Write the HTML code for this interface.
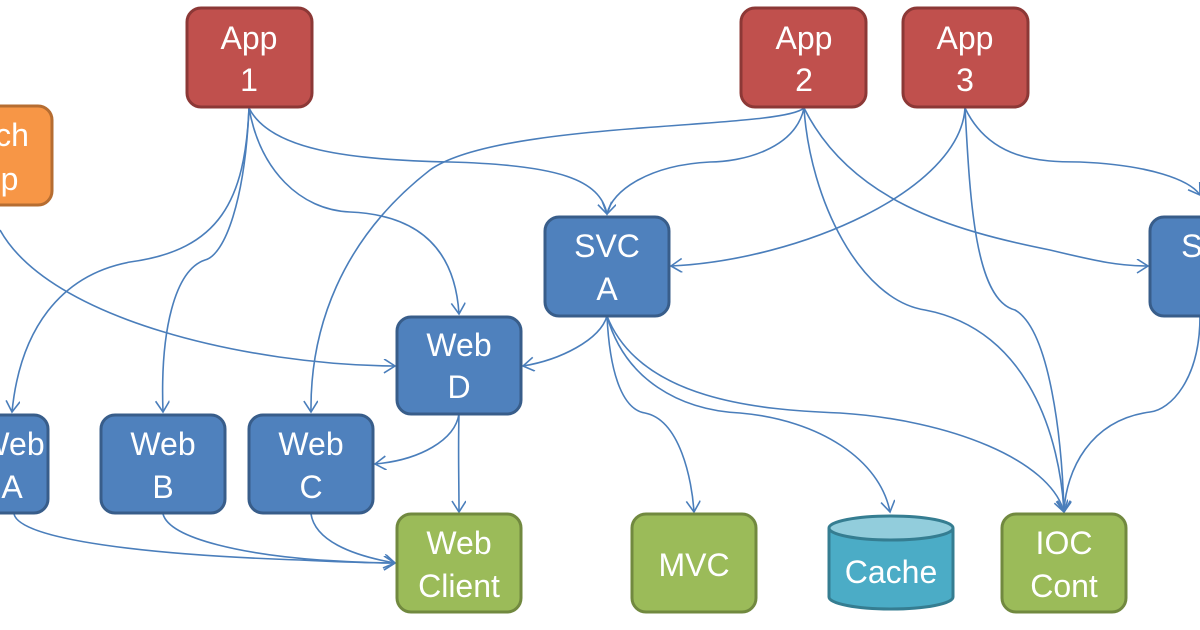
<!DOCTYPE html>
<html><head><meta charset="utf-8"><style>
html,body{margin:0;padding:0;background:#fff;width:1200px;height:630px;overflow:hidden}
svg{display:block}
text{font-family:"Liberation Sans",sans-serif;font-size:32px;fill:#fff;text-anchor:middle}
.e{fill:none;stroke:#4A7EBB;stroke-width:1.6}
</style></head><body>
<svg width="1200" height="630" viewBox="0 0 1200 630">
<defs>
<marker id="a" markerWidth="16" markerHeight="16" refX="12" refY="7" orient="auto" markerUnits="userSpaceOnUse">
<path d="M1,0 L12,7 L1,14" fill="none" stroke="#4A7EBB" stroke-width="1.6"/>
</marker>
</defs>
<g class="e" marker-end="url(#a)">
<path d="M249,108 C245,200 220,250 130,262 C60,275 20,330 12,412"/>
<path d="M249,108 C245,200 225,255 205,260 C175,270 160,330 163,412"/>
<path d="M249,108 C260,170 300,210 350,212 C420,215 455,250 459,314"/>
<path d="M249,108 C270,150 350,160 450,162 C560,165 600,180 607,214"/>
<path d="M0,230 C50,320 250,365 395,366"/>
<path d="M804,108 C795,150 740,162 710,162 C650,165 612,190 607,214"/>
<path d="M804,108 C780,130 500,120 430,170 C340,240 310,330 311,412"/>
<path d="M804,108 C850,200 950,230 1050,250 C1100,262 1120,266 1148,266"/>
<path d="M804,108 C810,200 860,300 925,310 C1030,330 1060,440 1064,512"/>
<path d="M965,108 C960,190 800,260 671,266"/>
<path d="M965,108 C970,200 975,300 1015,310 C1050,330 1062,440 1064,512"/>
<path d="M965,108 C990,160 1040,162 1080,162 C1150,165 1190,180 1200,195"/>
<path d="M1200,316 C1200,380 1170,410 1150,412 C1090,420 1066,470 1064,512"/>
<path d="M607,316 C600,340 560,360 523,366"/>
<path d="M607,316 C610,380 625,410 645,413 C680,420 692,480 694,512"/>
<path d="M607,316 C625,380 680,410 740,413 C820,420 880,460 890,512"/>
<path d="M607,316 C640,400 760,410 840,413 C950,420 1050,460 1064,512"/>
<path d="M459,414 C455,440 420,460 375,464"/>
<path d="M459,414 C458,450 459,480 459,512"/>
<path d="M14,514 C20,540 150,555 300,560 C360,563 380,563 395,563"/>
<path d="M163,514 C170,540 250,555 320,560 C370,563 385,563 395,563"/>
<path d="M311,514 C315,540 350,555 395,563"/>
</g>
<g stroke-width="3">
<rect x="187" y="8" width="125" height="99" rx="14" fill="#C0504D" stroke="#8C3836"/>
<rect x="741" y="8" width="125" height="99" rx="14" fill="#C0504D" stroke="#8C3836"/>
<rect x="903" y="8" width="125" height="99" rx="14" fill="#C0504D" stroke="#8C3836"/>
<rect x="-72" y="106" width="124" height="99" rx="14" fill="#F79646" stroke="#B66D31"/>
<rect x="545" y="217" width="124" height="99" rx="14" fill="#4F81BD" stroke="#385D8A"/>
<rect x="1150" y="217" width="124" height="99" rx="14" fill="#4F81BD" stroke="#385D8A"/>
<rect x="397" y="317" width="124" height="97" rx="14" fill="#4F81BD" stroke="#385D8A"/>
<rect x="-76" y="415" width="124" height="98" rx="14" fill="#4F81BD" stroke="#385D8A"/>
<rect x="101" y="415" width="124" height="98" rx="14" fill="#4F81BD" stroke="#385D8A"/>
<rect x="249" y="415" width="124" height="98" rx="14" fill="#4F81BD" stroke="#385D8A"/>
<rect x="397" y="514" width="124" height="98" rx="14" fill="#9BBB59" stroke="#71893F"/>
<rect x="632" y="514" width="124" height="98" rx="14" fill="#9BBB59" stroke="#71893F"/>
<rect x="1002" y="514" width="124" height="98" rx="14" fill="#9BBB59" stroke="#71893F"/>
<path d="M829,528 L829,597 A62,12 0 0 0 953,597 L953,528" fill="#4BACC6" stroke="#357D91"/>
<ellipse cx="891" cy="528" rx="62" ry="12" fill="#92CDDC" stroke="#357D91"/>
</g>
<text x="249" y="49">App</text><text x="249" y="91">1</text>
<text x="804" y="49">App</text><text x="804" y="91">2</text>
<text x="965" y="49">App</text><text x="965" y="91">3</text>
<text x="-12" y="146">Batch</text><text x="-10" y="190">App</text>
<text x="607" y="257">SVC</text><text x="607" y="300">A</text>
<text x="1214" y="257">SVC</text><text x="1214" y="300">B</text>
<text x="459" y="356">Web</text><text x="459" y="398">D</text>
<text x="12" y="455">Web</text><text x="12" y="498">A</text>
<text x="163" y="455">Web</text><text x="163" y="498">B</text>
<text x="311" y="455">Web</text><text x="311" y="498">C</text>
<text x="459" y="554">Web</text><text x="459" y="597">Client</text>
<text x="694" y="576">MVC</text>
<text x="891" y="583">Cache</text>
<text x="1064" y="554">IOC</text><text x="1064" y="597">Cont</text>
</svg>
</body></html>
